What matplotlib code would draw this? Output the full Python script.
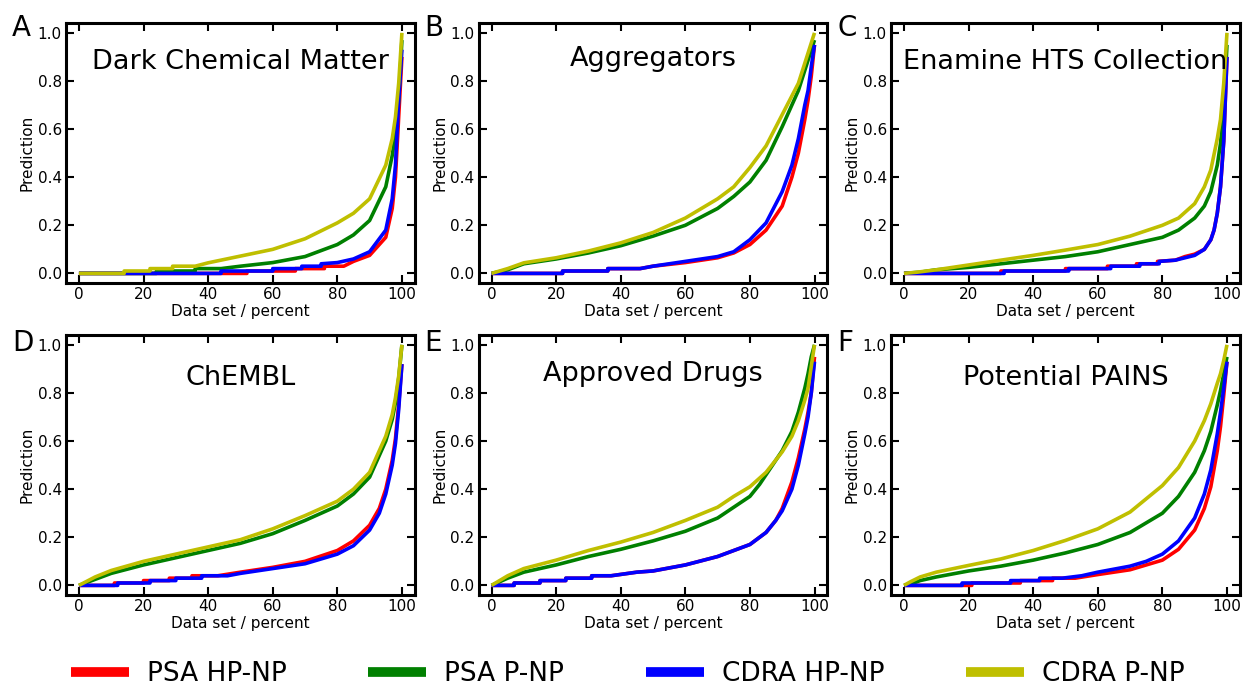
import matplotlib
matplotlib.use("Agg")
import matplotlib.pyplot as plt
from matplotlib import font_manager

# ---------------------------------------------------------------------------
# Sorted model predictions against the fraction of each data set (percent).
# Series order: PSA HP-NP, PSA P-NP, CDRA HP-NP, CDRA P-NP
# ---------------------------------------------------------------------------
series_names = ["PSA HP-NP", "PSA P-NP", "CDRA HP-NP", "CDRA P-NP"]
series_colors = ["#ff0000", "#008000", "#0000ff", "#bfbf00"]

panel_letters = ["A", "B", "C", "D", "E", "F"]
panel_titles = ["Dark Chemical Matter", "Aggregators", "Enamine HTS Collection",
                "ChEMBL", "Approved Drugs", "Potential PAINS"]

# A: Dark Chemical Matter
dcm_psa_hp_x = [0, 52, 52, 67, 67, 76, 76, 82, 85, 90, 95, 97, 98, 99, 100]
dcm_psa_hp_y = [0, 0, 0.01, 0.01, 0.02, 0.02, 0.03, 0.03, 0.05, 0.075, 0.15, 0.27, 0.40, 0.65, 0.90]
dcm_psa_p_x = [0, 24, 24, 36, 36, 44, 50, 60, 70, 80, 85, 90, 95, 97, 98, 99, 100]
dcm_psa_p_y = [0, 0, 0.01, 0.01, 0.02, 0.02, 0.03, 0.045, 0.07, 0.12, 0.16, 0.22, 0.36, 0.49, 0.58, 0.72, 0.97]
dcm_cdra_hp_x = [0, 44, 44, 60, 60, 69, 69, 75, 75, 80, 85, 90, 95, 97, 98, 99, 100]
dcm_cdra_hp_y = [0, 0, 0.01, 0.01, 0.02, 0.02, 0.03, 0.03, 0.04, 0.045, 0.06, 0.09, 0.18, 0.31, 0.45, 0.72, 0.93]
dcm_cdra_p_x = [0, 14, 14, 22, 22, 29, 29, 36, 40, 50, 60, 70, 80, 85, 90, 95, 97, 98, 99, 100]
dcm_cdra_p_y = [0, 0, 0.01, 0.01, 0.02, 0.02, 0.03, 0.03, 0.044, 0.072, 0.10, 0.144, 0.21, 0.25, 0.31, 0.45, 0.56, 0.65, 0.79, 1.0]

# B: Aggregators
agg_psa_hp_x = [0, 22, 22, 36, 36, 46, 50, 60, 70, 75, 80, 85, 90, 93, 95, 97, 98, 99, 100]
agg_psa_hp_y = [0, 0, 0.01, 0.01, 0.02, 0.02, 0.03, 0.045, 0.065, 0.085, 0.12, 0.18, 0.28, 0.40, 0.50, 0.64, 0.72, 0.82, 0.95]
agg_psa_p_x = [0, 5, 10, 20, 30, 40, 50, 60, 70, 75, 80, 85, 90, 95, 100]
agg_psa_p_y = [0, 0.015, 0.04, 0.06, 0.085, 0.115, 0.155, 0.20, 0.27, 0.32, 0.38, 0.47, 0.61, 0.76, 0.97]
agg_cdra_hp_x = [0, 22, 22, 36, 36, 46, 50, 60, 70, 75, 80, 85, 90, 93, 95, 97, 98, 99, 100]
agg_cdra_hp_y = [0, 0, 0.01, 0.01, 0.02, 0.02, 0.03, 0.05, 0.07, 0.09, 0.14, 0.21, 0.34, 0.45, 0.56, 0.70, 0.76, 0.86, 0.95]
agg_cdra_p_x = [0, 5, 10, 20, 30, 40, 50, 60, 70, 75, 80, 85, 90, 95, 100]
agg_cdra_p_y = [0, 0.02, 0.044, 0.065, 0.093, 0.127, 0.17, 0.23, 0.31, 0.36, 0.44, 0.53, 0.66, 0.79, 1.0]

# C: Enamine HTS Collection
ena_psa_hp_x = [0, 30, 30, 50, 50, 63, 63, 72, 72, 78.5, 78.5, 84, 87, 90, 93, 95, 96, 97, 98, 99, 100]
ena_psa_hp_y = [0, 0, 0.01, 0.01, 0.02, 0.02, 0.03, 0.03, 0.04, 0.04, 0.05, 0.055, 0.07, 0.08, 0.10, 0.14, 0.18, 0.25, 0.36, 0.55, 0.90]
ena_psa_p_x = [0, 5, 10, 20, 30, 40, 50, 60, 70, 80, 85, 90, 93, 95, 97, 98, 99, 100]
ena_psa_p_y = [0, 0.005, 0.015, 0.025, 0.04, 0.055, 0.07, 0.09, 0.12, 0.15, 0.18, 0.23, 0.28, 0.34, 0.45, 0.54, 0.68, 0.95]
ena_cdra_hp_x = [0, 31, 31, 51, 51, 64, 64, 73, 73, 79, 79, 84, 87, 90, 93, 95, 96, 97, 98, 99, 100]
ena_cdra_hp_y = [0, 0, 0.01, 0.01, 0.02, 0.02, 0.03, 0.03, 0.04, 0.04, 0.05, 0.055, 0.065, 0.075, 0.10, 0.14, 0.18, 0.25, 0.36, 0.55, 0.90]
ena_cdra_p_x = [0, 4, 10, 20, 30, 40, 50, 60, 70, 80, 85, 90, 93, 95, 97, 98, 99, 100]
ena_cdra_p_y = [0, 0.005, 0.015, 0.035, 0.055, 0.075, 0.097, 0.12, 0.155, 0.20, 0.23, 0.29, 0.36, 0.43, 0.56, 0.64, 0.79, 1.0]

# D: ChEMBL
chembl_psa_hp_x = [0, 11, 11, 20, 20, 28, 28, 35, 35, 43, 50, 60, 70, 80, 85, 90, 93, 95, 97, 98, 99, 100]
chembl_psa_hp_y = [0, 0, 0.01, 0.01, 0.02, 0.02, 0.03, 0.03, 0.04, 0.04, 0.055, 0.075, 0.10, 0.145, 0.185, 0.25, 0.32, 0.40, 0.52, 0.61, 0.75, 0.92]
chembl_psa_p_x = [0, 5, 10, 20, 30, 40, 50, 60, 70, 80, 85, 90, 95, 97, 98, 99, 100]
chembl_psa_p_y = [0, 0.025, 0.05, 0.085, 0.115, 0.145, 0.175, 0.215, 0.27, 0.33, 0.38, 0.45, 0.60, 0.69, 0.76, 0.86, 1.0]
chembl_cdra_hp_x = [0, 12, 12, 22, 22, 30, 30, 38, 38, 46, 50, 60, 70, 80, 85, 90, 93, 95, 97, 98, 99, 100]
chembl_cdra_hp_y = [0, 0, 0.01, 0.01, 0.02, 0.02, 0.03, 0.03, 0.04, 0.04, 0.05, 0.07, 0.09, 0.13, 0.165, 0.23, 0.30, 0.38, 0.50, 0.59, 0.73, 0.92]
chembl_cdra_p_x = [0, 5, 10, 20, 30, 40, 50, 60, 70, 80, 85, 90, 95, 97, 98, 99, 100]
chembl_cdra_p_y = [0, 0.035, 0.062, 0.10, 0.13, 0.16, 0.19, 0.235, 0.29, 0.35, 0.40, 0.47, 0.62, 0.71, 0.78, 0.87, 1.0]

# E: Approved Drugs
drug_psa_hp_x = [0, 7, 7, 15, 15, 23, 23, 31, 31, 37, 45, 50, 60, 70, 80, 85, 88, 90, 93, 95, 97, 98, 99, 100]
drug_psa_hp_y = [0, 0, 0.01, 0.01, 0.02, 0.02, 0.03, 0.03, 0.04, 0.04, 0.055, 0.06, 0.085, 0.12, 0.17, 0.22, 0.27, 0.32, 0.43, 0.53, 0.65, 0.72, 0.80, 0.95]
drug_psa_p_x = [0, 5, 10, 20, 30, 40, 50, 60, 70, 80, 83, 85, 90, 93, 95, 97, 98, 99, 100]
drug_psa_p_y = [0, 0.03, 0.055, 0.085, 0.12, 0.15, 0.185, 0.225, 0.28, 0.37, 0.42, 0.46, 0.56, 0.64, 0.72, 0.82, 0.88, 0.95, 1.0]
drug_cdra_hp_x = [0, 7, 7, 15, 15, 23, 23, 31, 31, 37, 45, 50, 60, 70, 80, 85, 88, 90, 93, 95, 97, 98, 99, 100]
drug_cdra_hp_y = [0, 0, 0.01, 0.01, 0.02, 0.02, 0.03, 0.03, 0.04, 0.04, 0.055, 0.06, 0.085, 0.12, 0.17, 0.22, 0.27, 0.31, 0.40, 0.50, 0.63, 0.70, 0.80, 0.93]
drug_cdra_p_x = [0, 5, 10, 20, 30, 40, 50, 60, 70, 75, 80, 85, 90, 93, 95, 97, 98, 99, 100]
drug_cdra_p_y = [0, 0.04, 0.07, 0.105, 0.145, 0.18, 0.22, 0.27, 0.325, 0.37, 0.41, 0.47, 0.555, 0.62, 0.685, 0.77, 0.82, 0.91, 1.0]

# F: Potential PAINS
pains_psa_hp_x = [0, 21, 21, 36, 36, 46, 46, 53, 60, 70, 80, 85, 90, 93, 95, 97, 98, 99, 100]
pains_psa_hp_y = [0, 0, 0.01, 0.01, 0.02, 0.02, 0.03, 0.03, 0.045, 0.065, 0.105, 0.15, 0.23, 0.32, 0.41, 0.56, 0.66, 0.79, 0.93]
pains_psa_p_x = [0, 2, 5, 10, 20, 30, 40, 50, 60, 70, 80, 85, 90, 93, 95, 97, 98, 99, 100]
pains_psa_p_y = [0, 0.005, 0.02, 0.035, 0.06, 0.08, 0.105, 0.135, 0.17, 0.22, 0.30, 0.37, 0.47, 0.56, 0.64, 0.75, 0.81, 0.88, 0.95]
pains_cdra_hp_x = [0, 18, 18, 33, 33, 42, 42, 49, 55, 60, 70, 75, 80, 85, 90, 93, 95, 97, 98, 99, 100]
pains_cdra_hp_y = [0, 0, 0.01, 0.01, 0.02, 0.02, 0.03, 0.03, 0.04, 0.055, 0.08, 0.10, 0.13, 0.185, 0.28, 0.38, 0.48, 0.63, 0.72, 0.82, 0.93]
pains_cdra_p_x = [0, 2, 5, 10, 20, 30, 40, 50, 60, 70, 80, 85, 90, 93, 95, 97, 98, 99, 100]
pains_cdra_p_y = [0, 0.015, 0.035, 0.055, 0.083, 0.11, 0.145, 0.187, 0.235, 0.305, 0.415, 0.49, 0.60, 0.685, 0.755, 0.84, 0.88, 0.935, 1.0]

x_ticks = [0, 20, 40, 60, 80, 100]
y_ticks = [0.0, 0.2, 0.4, 0.6, 0.8, 1.0]

panel_series = [
    [(dcm_psa_hp_x, dcm_psa_hp_y), (dcm_psa_p_x, dcm_psa_p_y),
     (dcm_cdra_hp_x, dcm_cdra_hp_y), (dcm_cdra_p_x, dcm_cdra_p_y)],
    [(agg_psa_hp_x, agg_psa_hp_y), (agg_psa_p_x, agg_psa_p_y),
     (agg_cdra_hp_x, agg_cdra_hp_y), (agg_cdra_p_x, agg_cdra_p_y)],
    [(ena_psa_hp_x, ena_psa_hp_y), (ena_psa_p_x, ena_psa_p_y),
     (ena_cdra_hp_x, ena_cdra_hp_y), (ena_cdra_p_x, ena_cdra_p_y)],
    [(chembl_psa_hp_x, chembl_psa_hp_y), (chembl_psa_p_x, chembl_psa_p_y),
     (chembl_cdra_hp_x, chembl_cdra_hp_y), (chembl_cdra_p_x, chembl_cdra_p_y)],
    [(drug_psa_hp_x, drug_psa_hp_y), (drug_psa_p_x, drug_psa_p_y),
     (drug_cdra_hp_x, drug_cdra_hp_y), (drug_cdra_p_x, drug_cdra_p_y)],
    [(pains_psa_hp_x, pains_psa_hp_y), (pains_psa_p_x, pains_psa_p_y),
     (pains_cdra_hp_x, pains_cdra_hp_y), (pains_cdra_p_x, pains_cdra_p_y)],
]

# ---------------------------------------------------------------------------
plt.rcParams["font.family"] = ["DejaVu Sans"]

fig = plt.figure(figsize=(12.48, 6.91), dpi=100)

col_left = [0.0529, 0.3835, 0.7140]
row_bottom = [0.5904, 0.1389]
ax_w, ax_h = 0.2795, 0.3760
title_y = [0.822, 0.835, 0.824, 0.810, 0.822, 0.810]
letter_y = [0.950, 0.950, 0.950, 0.940, 0.940, 0.940]

handles = []
for i in range(6):
    r, c = divmod(i, 3)
    ax = fig.add_axes([col_left[c], row_bottom[r], ax_w, ax_h])
    for k, (xs, ys) in enumerate(panel_series[i]):
        ln, = ax.plot(xs, ys, color=series_colors[k], lw=2.6,
                      solid_capstyle="butt", label=series_names[k])
        if i == 0:
            handles.append(ln)
    ax.set_xlim(-4, 104)
    ax.set_ylim(-0.04, 1.04)
    ax.set_xticks(x_ticks)
    ax.set_yticks(y_ticks)
    ax.set_yticklabels([f"{v:.1f}" for v in y_ticks])
    ax.tick_params(direction="in", length=6, width=1.5, labelsize=11,
                   top=True, right=True, pad=3)
    for sp in ax.spines.values():
        sp.set_linewidth(2.2)
    ax.set_xlabel("Data set / percent", fontsize=11, labelpad=1)
    ax.set_ylabel("Prediction", fontsize=11, labelpad=2)
    ax.text(0.5, title_y[i], panel_titles[i], transform=ax.transAxes,
            ha="center", va="baseline", fontsize=19.5)
    ax.text(-0.155, letter_y[i], panel_letters[i], transform=ax.transAxes,
            ha="left", va="baseline", fontsize=20)

# Legend along the bottom; use a narrow face when one is available
available = set(font_manager.get_font_names())
if "Liberation Sans Narrow" in available:
    leg_prop = {"family": "Liberation Sans Narrow", "size": 23}
    leg_kw = dict(handlelength=1.8, handletextpad=0.55, columnspacing=2.6)
else:
    leg_prop = {"family": "DejaVu Sans", "size": 19}
    leg_kw = dict(handlelength=2.2, handletextpad=0.68, columnspacing=3.1)

leg = fig.legend(handles, series_names, loc="center", ncol=4,
                 bbox_to_anchor=(0.503, 0.024), frameon=False,
                 prop=leg_prop, **leg_kw)
for h in leg.legend_handles:
    h.set_linewidth(7)

fig.savefig("out.png", dpi=100)
